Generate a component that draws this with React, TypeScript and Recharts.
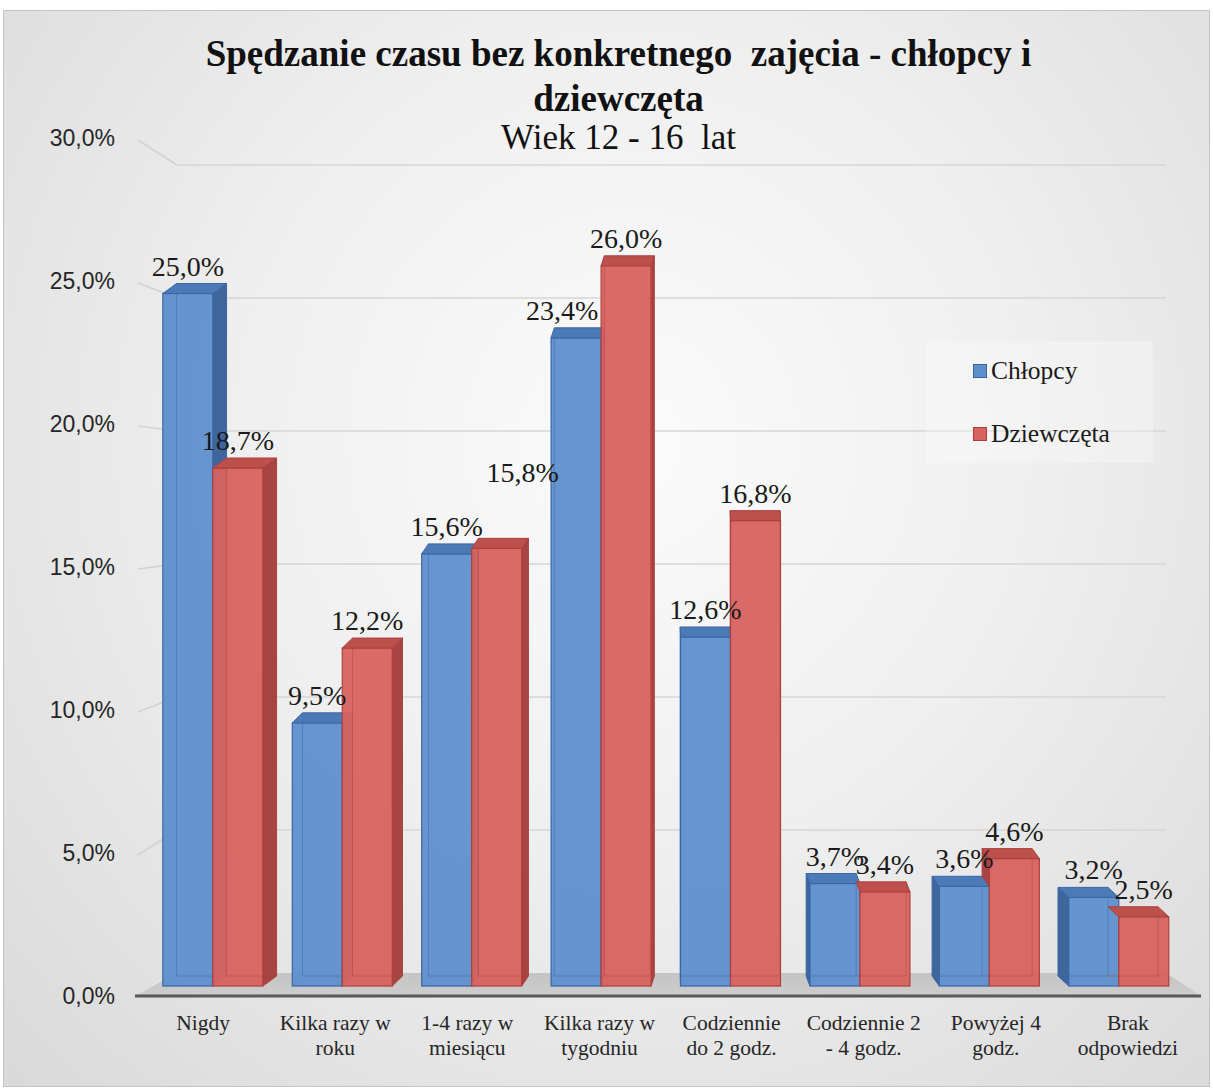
import React from 'react';
import { BarChart, Bar, XAxis, YAxis, Legend, ReferenceLine, ReferenceArea } from 'recharts';

// ---------- data ----------
const categories = [
  'Nigdy',
  'Kilka razy w\nroku',
  '1-4 razy w\nmiesiącu',
  'Kilka razy w\ntygodniu',
  'Codziennie\ndo 2 godz.',
  'Codziennie 2\n- 4 godz.',
  'Powyżej 4\ngodz.',
  'Brak\nodpowiedzi',
];
const boys = [25.0, 9.5, 15.6, 23.4, 12.6, 3.7, 3.6, 3.2];
const girls = [18.7, 12.2, 15.8, 26.0, 16.8, 3.4, 4.6, 2.5];
const yTicks = [0, 5, 10, 15, 20, 25, 30];
const seriesNames = { boys: 'Chłopcy', girls: 'Dziewczęta' };
const titleLines = ['Spędzanie czasu bez konkretnego  zajęcia - chłopcy i', 'dziewczęta'];
const subtitle = 'Wiek 12 - 16  lat';

const data = categories.map((c, i) => ({ category: c, boys: boys[i], girls: girls[i] }));

// ---------- styles ----------
const FONT = '"Liberation Serif", "Times New Roman", "DejaVu Serif", serif';
const SANS = '"Liberation Sans", Arial, sans-serif';
const CHART_W = 1207;
const CHART_H = 1077;
const COLORS: Record<string, any> = {
  boys: { front: '#5e8fcd', side: '#3e669d', top: '#4b7ab7', edge: '#3a66a2' },
  girls: { front: '#d8625f', side: '#a64543', top: '#bd4f4c', edge: '#ad403e' },
};
// label nudges (style only) keyed by series-index
const labelNudges: Record<string, { dx: number; dy: number }> = {
  'girls-2': { dx: 26, dy: -48 },
  'boys-3': { dx: -14, dy: 0 },
};

// perspective helpers (pixel styling of the pseudo-3D look)
const frontShift = (cx: number) => (782 - cx) * 0.0205;
const depthDx = (cx: number) => (717 - cx) * 0.027;
const DEPTH_DY = 10;

const fmt = (v: number) => v.toFixed(1).replace('.', ',') + '%';

function Bar3D(props: any) {
  const { x, y, width: w, height: h, payload, series } = props;
  if (!(h > 0)) return null;
  const c = COLORS[series];
  const groupCx = series === 'boys' ? x + w : x;
  const s = frontShift(groupCx);
  const fx = x + s;
  const bottom = y + h;
  const dx = depthDx(groupCx + s);
  const dy = -DEPTH_DY;
  let side: string | null = null;
  if (dx >= 0) {
    side = `${fx + w},${y} ${fx + w + dx},${y + dy} ${fx + w + dx},${bottom + dy} ${fx + w},${bottom}`;
  } else if (series === 'boys') {
    side = `${fx},${y} ${fx + dx},${y + dy} ${fx + dx},${bottom + dy} ${fx},${bottom}`;
  } else {
    // left face of the red bar is hidden behind the blue bar below its top
    const bt = bottom - h * (payload.boys / payload.girls);
    if (y < bt) {
      side = `${fx},${y} ${fx + dx},${y + dy} ${fx + dx},${bt + dy} ${fx},${bt}`;
    }
  }
  const top = `${fx},${y} ${fx + w},${y} ${fx + w + dx},${y + dy} ${fx + dx},${y + dy}`;
  const backX = dx >= 0 ? fx + dx : fx + w + dx;
  return (
    <g>
      {side && <polygon points={side} fill={c.side} stroke={c.edge} strokeWidth={1} strokeLinejoin="round" />}
      <rect x={fx} y={y} width={w} height={h} fill={c.front} stroke={c.edge} strokeWidth={1.2} fillOpacity={0.95} />
      <line x1={backX} y1={y + dy} x2={backX} y2={bottom + dy} stroke={c.edge} strokeOpacity={0.45} strokeWidth={1} />
      <line x1={fx + dx} y1={bottom + dy} x2={fx + w + dx} y2={bottom + dy} stroke={c.edge} strokeOpacity={0.45} strokeWidth={1} />
      <polygon points={top} fill={c.top} stroke={c.edge} strokeWidth={1} strokeLinejoin="round" />
    </g>
  );
}

function DataLabel(props: any) {
  const { x, y, width: w, value, index, series } = props;
  const groupCx = series === 'boys' ? x + w : x;
  const fx = x + frontShift(groupCx);
  const n = labelNudges[`${series}-${index}`] || { dx: 0, dy: 0 };
  return (
    <text
      x={fx + w / 2 + n.dx}
      y={y - 18 + n.dy}
      textAnchor="middle"
      fontFamily={FONT}
      fontSize={28}
      fill="#1a1a1a"
    >
      {fmt(value)}
    </text>
  );
}

function YTick(props: any) {
  const { x, y, payload } = props;
  const v = payload.value;
  return (
    <text x={x - 20} y={y + 10 - 0.9 * v} textAnchor="end" dominantBaseline="central" fontFamily={SANS} fontSize={23} fill="#262626">
      {fmt(v)}
    </text>
  );
}

function XTick(props: any) {
  const { x, y, payload } = props;
  const lines = String(payload.value).split('\n');
  return (
    <g>
      {lines.map((l, i) => (
        <text key={i} x={x + 2} y={y + 27 + i * 25} textAnchor="middle" dominantBaseline="central" fontFamily={FONT} fontSize={21.5} fill="#262626">
          {l}
        </text>
      ))}
    </g>
  );
}

function GridShape(v: number) {
  return (props: any) => {
    const { x1, y1, x2 } = props;
    const fy = y1 + 10 - 0.9 * v;
    const by = y1 - 23 + 1.1 * v;
    return (
      <g>
        <path d={`M${x1 + 3},${fy + 2} L${x1 + 42},${by}`} stroke="#d2d2d2" strokeWidth={1.6} fill="none" />
        <path d={`M${x1 + 42},${by} L${x2 - 26},${by}`} stroke="#d6d6d6" strokeWidth={1.6} fill="none" />
      </g>
    );
  };
}

function FloorShape(props: any) {
  const { x, y, width, height } = props;
  const front = y + height;
  const back = y - 13;
  return (
    <g>
      <defs>
        <linearGradient id="floorGrad" x1="0" y1="0" x2="0" y2="1">
          <stop offset="0" stopColor="#c4c4c4" />
          <stop offset="1" stopColor="#cdcdcd" />
        </linearGradient>
      </defs>
      <polygon
        points={`${x + 42},${back} ${x + width - 26},${back} ${x + width + 9},${front} ${x},${front}`}
        fill="url(#floorGrad)"
      />
      <line x1={x} y1={front} x2={x + width + 9} y2={front} stroke="#595959" strokeWidth={3} />
    </g>
  );
}

function LegendBox(props: any) {
  const items = props.payload || [];
  return (
    <div style={{ width: 227, height: 122, background: 'rgba(255,255,255,0.28)', position: 'relative', fontFamily: FONT, fontSize: 25.5, color: '#1a1a1a' }}>
      {items.map((it: any, i: number) => (
        <div key={i} style={{ position: 'absolute', left: 47, top: 30 + i * 63, transform: 'translateY(-50%)', display: 'flex', alignItems: 'center', whiteSpace: 'nowrap' }}>
          <span style={{ display: 'inline-block', width: 12, height: 12, background: it.color, border: `1px solid ${i === 0 ? '#3a66a2' : '#ad403e'}`, marginRight: 4 }} />
          <span>{it.value}</span>
        </div>
      ))}
    </div>
  );
}

export default function App() {
  return (
    <div
      style={{
        position: 'absolute',
        left: 3,
        top: 10,
        width: CHART_W,
        height: CHART_H,
        border: '1px solid #c4c4c4',
        boxSizing: 'border-box',
        background: 'radial-gradient(ellipse at 52% 40%, #fbfbfb 0%, #efefef 45%, #d9d9d9 100%)',
        fontFamily: FONT,
      }}
    >
      <div style={{ position: 'absolute', left: 11, top: 20, width: CHART_W, textAlign: 'center', color: '#111', whiteSpace: 'pre' }}>
        <div style={{ fontWeight: 'bold', fontSize: 37, lineHeight: '45px' }}>{titleLines[0]}</div>
        <div style={{ fontWeight: 'bold', fontSize: 37, lineHeight: '45px' }}>{titleLines[1]}</div>
        <div style={{ fontSize: 35, lineHeight: '34px' }}>{subtitle}</div>
      </div>
      <BarChart
        width={CHART_W}
        height={CHART_H}
        data={data}
        margin={{ top: 144, right: 19, bottom: 12, left: 0 }}
        barCategoryGap="12%"
        barGap={0}
        style={{ position: 'absolute', left: 0, top: 0 }}
      >
        <XAxis dataKey="category" height={80} axisLine={false} tickLine={false} tickSize={0} tickMargin={0} tick={<XTick />} interval={0} />
        <YAxis width={131} domain={[-0.36, 30]} ticks={yTicks} axisLine={false} tickLine={false} tickSize={0} tickMargin={0} tick={<YTick />} allowDataOverflow />
        <ReferenceArea y1={-0.36} y2={0} shape={FloorShape} ifOverflow="visible" zIndex={-60} />
        {yTicks.filter((t) => t > 0).map((t) => (
          <ReferenceLine key={t} y={t} shape={GridShape(t)} ifOverflow="visible" zIndex={-60} />
        ))}
        <Legend
          verticalAlign="middle"
          align="center"
          layout="horizontal"
          content={<LegendBox />}
          wrapperStyle={{ left: 922, top: 330, width: 227, height: 122 }}
        />
        <Bar dataKey="boys" name={seriesNames.boys} fill={COLORS.boys.front} isAnimationActive={false}
          shape={(p: any) => <Bar3D {...p} series="boys" />}
          label={(p: any) => <DataLabel {...p} series="boys" />} />
        <Bar dataKey="girls" name={seriesNames.girls} fill={COLORS.girls.front} isAnimationActive={false}
          shape={(p: any) => <Bar3D {...p} series="girls" />}
          label={(p: any) => <DataLabel {...p} series="girls" />} />
      </BarChart>
    </div>
  );
}
